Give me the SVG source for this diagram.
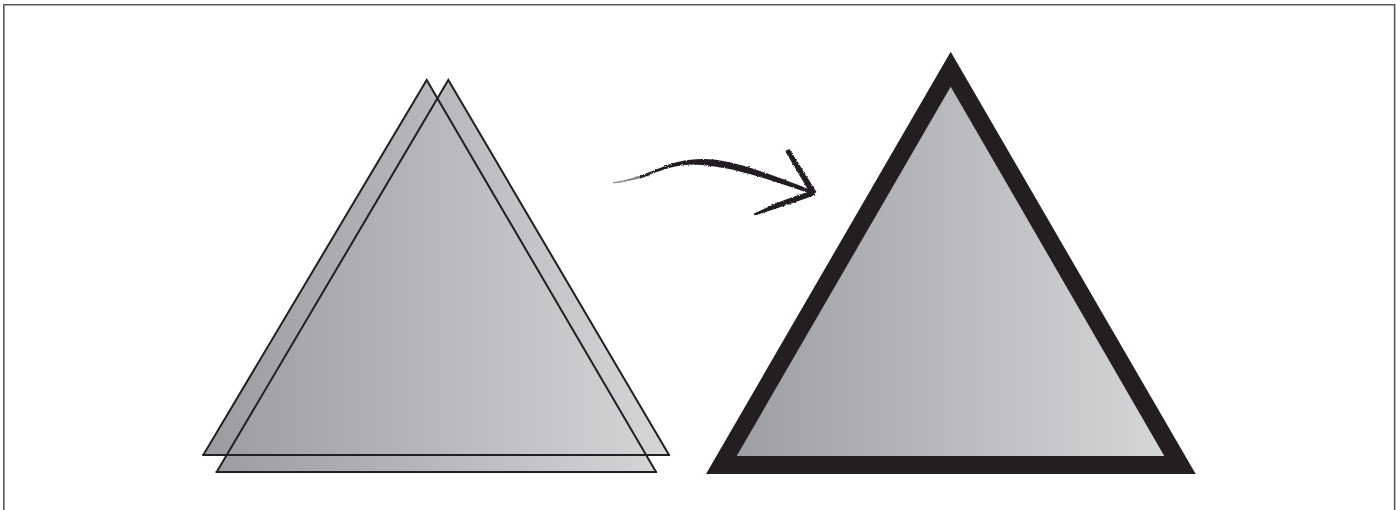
<svg xmlns="http://www.w3.org/2000/svg" width="1396" height="510" viewBox="0 0 1396 510">
  <defs>
    <linearGradient id="gL" gradientUnits="userSpaceOnUse" x1="203" y1="0" x2="669" y2="0">
      <stop offset="0" stop-color="#9a9ca0"/>
      <stop offset="0.5" stop-color="#b6b8bb"/>
      <stop offset="1" stop-color="#d5d6d8"/>
    </linearGradient>
    <linearGradient id="gR" gradientUnits="userSpaceOnUse" x1="737" y1="0" x2="1164" y2="0">
      <stop offset="0" stop-color="#9d9fa3"/>
      <stop offset="0.5" stop-color="#b8babd"/>
      <stop offset="1" stop-color="#d5d6d8"/>
    </linearGradient>
    <filter id="rough" x="-10%" y="-30%" width="120%" height="160%">
      <feTurbulence type="fractalNoise" baseFrequency="0.9" numOctaves="2" seed="3" result="n"/>
      <feDisplacementMap in="SourceGraphic" in2="n" scale="2.5" xChannelSelector="R" yChannelSelector="G"/>
    </filter>
  </defs>
  <style>
    .edge { fill: none; stroke: #231f20; stroke-width: 2; stroke-linecap: square; }
    .ink { fill: #231f20; }
    .frame { fill: none; stroke: #5a5a5c; stroke-width: 1.6; }
  </style>

  <rect width="1396" height="510" fill="#ffffff"/>
  <path class="frame" d="M3.8,520 L3.8,4.8 L1394.6,4.8 L1394.6,520"/>

  <g id="double-triangle">
    <path fill="url(#gL)" d="M203.3,455 L426.7,80 L437.4,98.4 L448.3,80 L669,455 L646.5,455 L656,472 L216.7,472 L226.7,455 Z"/>
    <path class="edge" d="M203.3,455 L426.7,80 L656,472"/>
    <path class="edge" d="M216.7,472 L448.3,80 L669,455"/>
    <path class="edge" d="M203.3,455 L669,455"/>
    <path class="edge" d="M216.7,472 L656,472"/>
  </g>

  <g id="bold-triangle">
    <path class="ink" d="M950.7,51.7 L706,474 L1195.7,474 Z"/>
    <path fill="url(#gR)" d="M950.7,86.7 L736.7,456 L1164.3,456 Z"/>
  </g>

  <g id="connectors" filter="url(#rough)">
    <path class="ink" opacity="0.55" d="M613,182.6 C625,180 638,176.5 650,173 L650,176 C638,179 625,182 613,183.6 Z"/>
    <path class="ink" d="M640,176 C660,168 675,161 690,159.8 C720,156 750,166 813,190.5 L814.5,195.5 C750,172 720,165 690,164.5 C672,166 658,171 640,178.5 Z"/>
    <path class="ink" d="M785,151 L789.5,149 L816.5,192 L811.5,195.5 Z"/>
    <path class="ink" d="M812,190.5 L815.5,195 L790,204 C778,208 766,212 755,215.5 L754,213.5 C766,208 778,202 790,198 Z"/>
  </g>
</svg>
